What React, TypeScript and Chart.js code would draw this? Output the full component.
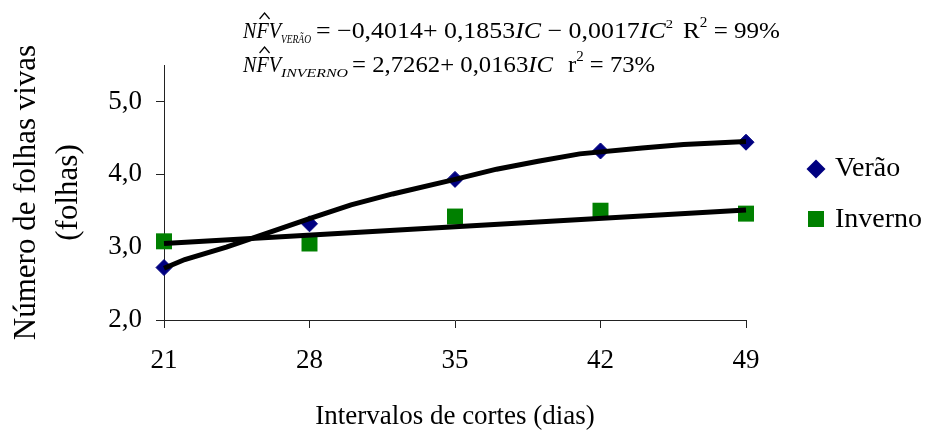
import React, { useEffect, useRef } from 'react';
import { Chart, registerables } from 'chart.js';

Chart.register(...registerables);

// ---- Data ----
const cutIntervals = [21, 28, 35, 42, 49];
const veraoValues = [2.72, 3.32, 3.93, 4.32, 4.44];
const invernoValues = [3.08, 3.05, 3.42, 3.5, 3.46];

// Fitted curves as drawn in the picture
const veraoFitX = [21, 22, 24, 28, 30, 32, 35, 37, 39, 41, 44, 46, 49];
const veraoFitY = [2.71, 2.83, 3.0, 3.39, 3.58, 3.73, 3.93, 4.07, 4.18, 4.28, 4.36, 4.41, 4.45];
const invernoFitX = [21, 49];
const invernoFitY = [3.05, 3.51];

const yTickValues = [2, 3, 4, 5];
const seriesLabels = ['Verão', 'Inverno'];
const seriesColors = ['#000080', '#008000'];

const FONT = "'Liberation Serif', 'Times New Roman', serif";

type Run = { t: string; italic?: boolean; size: number; dy?: number };

function drawRuns(ctx: CanvasRenderingContext2D, runs: Run[], x0: number, x1: number, base: number) {
  const widths: number[] = [];
  let total = 0;
  for (const r of runs) {
    ctx.font = `${r.italic ? 'italic ' : ''}${r.size}px ${FONT}`;
    const w = ctx.measureText(r.t).width;
    widths.push(w);
    total += w;
  }
  const sx = (x1 - x0) / total;
  ctx.save();
  ctx.translate(x0, base);
  ctx.scale(sx, 1);
  let x = 0;
  runs.forEach((r, i) => {
    ctx.font = `${r.italic ? 'italic ' : ''}${r.size}px ${FONT}`;
    ctx.fillText(r.t, x, r.dy || 0);
    x += widths[i];
  });
  ctx.restore();
  return { sx, widths };
}

function drawNFV(ctx: CanvasRenderingContext2D, x0: number, x1: number, base: number, sub: string, subX1: number) {
  const { sx, widths } = drawRuns(
    ctx,
    [
      { t: 'N', italic: true, size: 23 },
      { t: 'F', italic: true, size: 23 },
      { t: 'V', italic: true, size: 23 },
    ],
    x0,
    x1,
    base
  );
  // hat over F
  const cx = x0 + sx * (widths[0] + widths[1] / 2) + 2;
  ctx.save();
  ctx.strokeStyle = '#000';
  ctx.lineWidth = 1.2;
  ctx.beginPath();
  ctx.moveTo(cx - 5, base - 19);
  ctx.lineTo(cx, base - 25);
  ctx.lineTo(cx + 5, base - 19);
  ctx.stroke();
  ctx.restore();
  drawRuns(ctx, [{ t: sub, italic: true, size: 12 }], x1, subX1, base + 5);
}

const annotationPlugin = {
  id: 'annotations',
  afterDraw(chart: any) {
    const ctx: CanvasRenderingContext2D = chart.ctx;
    ctx.save();
    ctx.fillStyle = '#000';
    ctx.textBaseline = 'alphabetic';
    ctx.textAlign = 'left';

    // Equation line 1
    drawNFV(ctx, 243, 281, 38, 'VERÃO', 311);
    drawRuns(
      ctx,
      [
        { t: '= \u22120,4014+ 0,1853', size: 23 },
        { t: 'IC', italic: true, size: 23 },
        { t: ' \u2212 0,0017', size: 23 },
        { t: 'IC', italic: true, size: 23 },
        { t: '2', size: 13, dy: -10 },
      ],
      316,
      673,
      38
    );
    drawRuns(
      ctx,
      [
        { t: 'R', size: 23 },
        { t: '2', size: 14, dy: -11 },
        { t: ' = 99%', size: 23 },
      ],
      683,
      780,
      38
    );

    // Equation line 2
    drawNFV(ctx, 243, 281, 72, 'INVERNO', 348);
    drawRuns(
      ctx,
      [
        { t: '= 2,7262+ 0,0163', size: 23 },
        { t: 'IC', italic: true, size: 23 },
      ],
      352,
      553,
      72
    );
    drawRuns(
      ctx,
      [
        { t: 'r', size: 23 },
        { t: '2', size: 14, dy: -11 },
        { t: ' = 73%', size: 23 },
      ],
      568,
      655,
      72
    );

    // Legend
    const lx = 816;
    ctx.fillStyle = seriesColors[0];
    ctx.beginPath();
    ctx.moveTo(lx, 169 - 9.5);
    ctx.lineTo(lx + 9.5, 169);
    ctx.lineTo(lx, 169 + 9.5);
    ctx.lineTo(lx - 9.5, 169);
    ctx.closePath();
    ctx.fill();
    ctx.fillStyle = seriesColors[1];
    ctx.fillRect(lx - 8, 219 - 8, 16, 16);
    ctx.fillStyle = '#000';
    ctx.font = `28px ${FONT}`;
    ctx.fillText(seriesLabels[0], 835, 176);
    ctx.fillText(seriesLabels[1], 835, 227);
    ctx.restore();
  },
};

export default function App() {
  const ref = useRef<HTMLCanvasElement | null>(null);

  useEffect(() => {
    document.body.style.margin = '0';
    const canvas = ref.current;
    if (!canvas) return;
    const toPts = (xs: number[], ys: number[]) => xs.map((x, i) => ({ x, y: ys[i] }));

    const chart = new Chart(canvas, {
      type: 'scatter',
      data: {
        datasets: [
          {
            label: seriesLabels[0],
            data: toPts(cutIntervals, veraoValues),
            pointStyle: 'rectRot',
            pointRadius: 8,
            backgroundColor: seriesColors[0],
            borderColor: seriesColors[0],
            borderWidth: 1,
            order: 1,
            clip: false,
          },
          {
            label: seriesLabels[1],
            data: toPts(cutIntervals, invernoValues),
            pointStyle: 'rect',
            pointRadius: 11.3,
            backgroundColor: seriesColors[1],
            borderColor: seriesColors[1],
            borderWidth: 0,
            order: 1,
            clip: false,
          },
          {
            label: 'fitVerao',
            data: toPts(veraoFitX, veraoFitY),
            showLine: true,
            borderColor: '#000',
            borderWidth: 5,
            pointRadius: 0,
            tension: 0,
            order: 0,
            clip: false,
          } as any,
          {
            label: 'fitInverno',
            data: toPts(invernoFitX, invernoFitY),
            showLine: true,
            borderColor: '#000',
            borderWidth: 5,
            pointRadius: 0,
            tension: 0,
            order: 0,
            clip: false,
          } as any,
        ],
      },
      options: {
        responsive: false,
        animation: false,
        layout: { padding: { top: 65, right: 187, left: 0, bottom: 0 } },
        plugins: { legend: { display: false }, tooltip: { enabled: false } },
        scales: {
          x: {
            type: 'linear',
            min: 21,
            max: 49,
            ticks: {
              stepSize: 7,
              color: '#000',
              font: { family: FONT, size: 27 },
              padding: 17,
              maxRotation: 0,
            },
            grid: { drawOnChartArea: false, drawTicks: true, tickLength: 8, color: '#222' },
            border: { color: '#222', width: 1 },
            title: {
              display: true,
              text: 'Intervalos de cortes (dias)',
              color: '#000',
              font: { family: FONT, size: 27, lineHeight: 1 },
              padding: { top: 0, bottom: 0 },
            },
            afterFit: (s: any) => {
              s.height = 110;
            },
          },
          y: {
            min: 2,
            max: 5.5,
            afterBuildTicks: (s: any) => {
              s.ticks = yTickValues.map((v) => ({ value: v }));
            },
            ticks: {
              color: '#000',
              font: { family: FONT, size: 27 },
              padding: 14,
              callback: (v: any) => Number(v).toFixed(1).replace('.', ','),
            },
            grid: { drawOnChartArea: false, drawTicks: true, tickLength: 8, color: '#222' },
            border: { color: '#222', width: 1 },
            title: {
              display: true,
              text: ['Número de folhas vivas', '(folhas)'],
              color: '#000',
              font: { family: FONT, size: 31, lineHeight: 1.35 },
              padding: { top: 6, bottom: 0 },
            },
            afterFit: (s: any) => {
              s.width = 164;
            },
          },
        },
      },
      plugins: [annotationPlugin],
    } as any);

    return () => chart.destroy();
  }, []);

  return <canvas ref={ref} width={933} height={430} style={{ display: 'block' }} />;
}
